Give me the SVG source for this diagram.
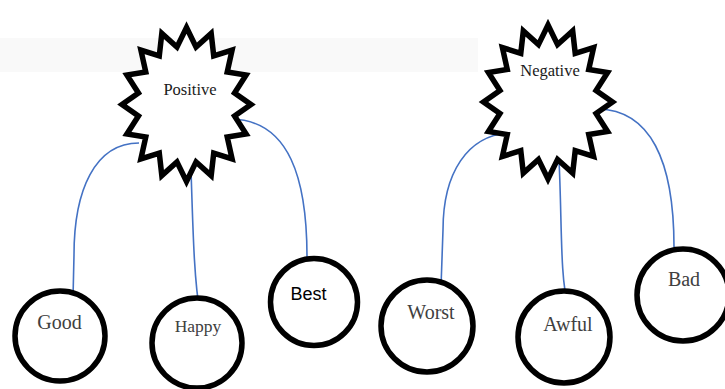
<svg xmlns="http://www.w3.org/2000/svg" width="725" height="389" viewBox="0 0 725 389">
  <style>
    .star { fill: #ffffff; stroke: #000000; stroke-width: 5.5; stroke-linejoin: miter; stroke-miterlimit: 10; }
    .ring { fill: #ffffff; stroke: #000000; stroke-width: 5.5; }
    .link { fill: none; stroke: #4472c4; stroke-width: 1.6; }
    .head { font-family: "Liberation Serif", "Times New Roman", serif; font-size: 16.5px; fill: #1a1a1a; text-anchor: middle; }
    .word { font-family: "Liberation Serif", "Times New Roman", serif; font-size: 20px; fill: #404040; text-anchor: middle; }
    .sans { font-family: "Liberation Sans", Arial, sans-serif; font-size: 18px; fill: #000000; text-anchor: middle; }
  </style>
  <defs>
    <!-- 16-point burst, centred on the origin -->
    <polygon id="burst" points="0,-77 9.56,-57.38 24.68,-71.14 27.22,-48.64 45.61,-54.45 40.74,-32.5 59.59,-29.47 48.06,-11.41 64.5,0 48.06,11.41 59.59,29.47 40.74,32.5 45.61,54.45 27.22,48.64 24.68,71.14 9.56,57.38 0,77 -9.56,57.38 -24.68,71.14 -27.22,48.64 -45.61,54.45 -40.74,32.5 -59.59,29.47 -48.06,11.41 -64.5,0 -48.06,-11.41 -59.59,-29.47 -40.74,-32.5 -45.61,-54.45 -27.22,-48.64 -24.68,-71.14 -9.56,-57.38"/>
  </defs>

  <rect width="725" height="389" fill="#ffffff"/>
  <rect x="0" y="38" width="478" height="34" fill="#f9f9f9"/>

  <g id="connectors">
    <path class="link" d="M139,143 C95,143 74,190 74,255 L73,298"/>
    <path class="link" d="M191,170 C193,230 194,280 200,313"/>
    <path class="link" d="M231,119 C290,120 307,180 307,257"/>
    <path class="link" d="M508,133 C468,136 443,172 443,230 L441,287"/>
    <path class="link" d="M559,160 C562,220 560,280 568,304"/>
    <path class="link" d="M598,109 C650,110 674,160 674,247"/>
  </g>

  <g id="positive">
    <use href="#burst" class="star" transform="translate(186.5,104.5)"/>
    <text class="head" x="190" y="95">Positive</text>
  </g>
  <g id="negative">
    <use href="#burst" class="star" transform="translate(548,102)"/>
    <text class="head" x="550" y="76">Negative</text>
  </g>

  <g id="good">
    <circle class="ring" cx="60" cy="336" r="45"/>
    <text class="word" x="59.5" y="329">Good</text>
  </g>
  <g id="happy">
    <circle class="ring" cx="197" cy="343" r="45"/>
    <text class="word" x="198" y="332" style="font-size:17.5px">Happy</text>
  </g>
  <g id="best">
    <circle class="ring" cx="314" cy="302" r="43.5"/>
    <text class="sans" x="308.5" y="300">Best</text>
  </g>
  <g id="worst">
    <circle class="ring" cx="427" cy="326" r="46"/>
    <text class="word" x="431" y="319">Worst</text>
  </g>
  <g id="awful">
    <circle class="ring" cx="564" cy="337" r="46"/>
    <text class="word" x="568" y="331">Awful</text>
  </g>
  <g id="bad">
    <circle class="ring" cx="683" cy="295" r="46"/>
    <text class="word" x="684" y="286">Bad</text>
  </g>
</svg>
